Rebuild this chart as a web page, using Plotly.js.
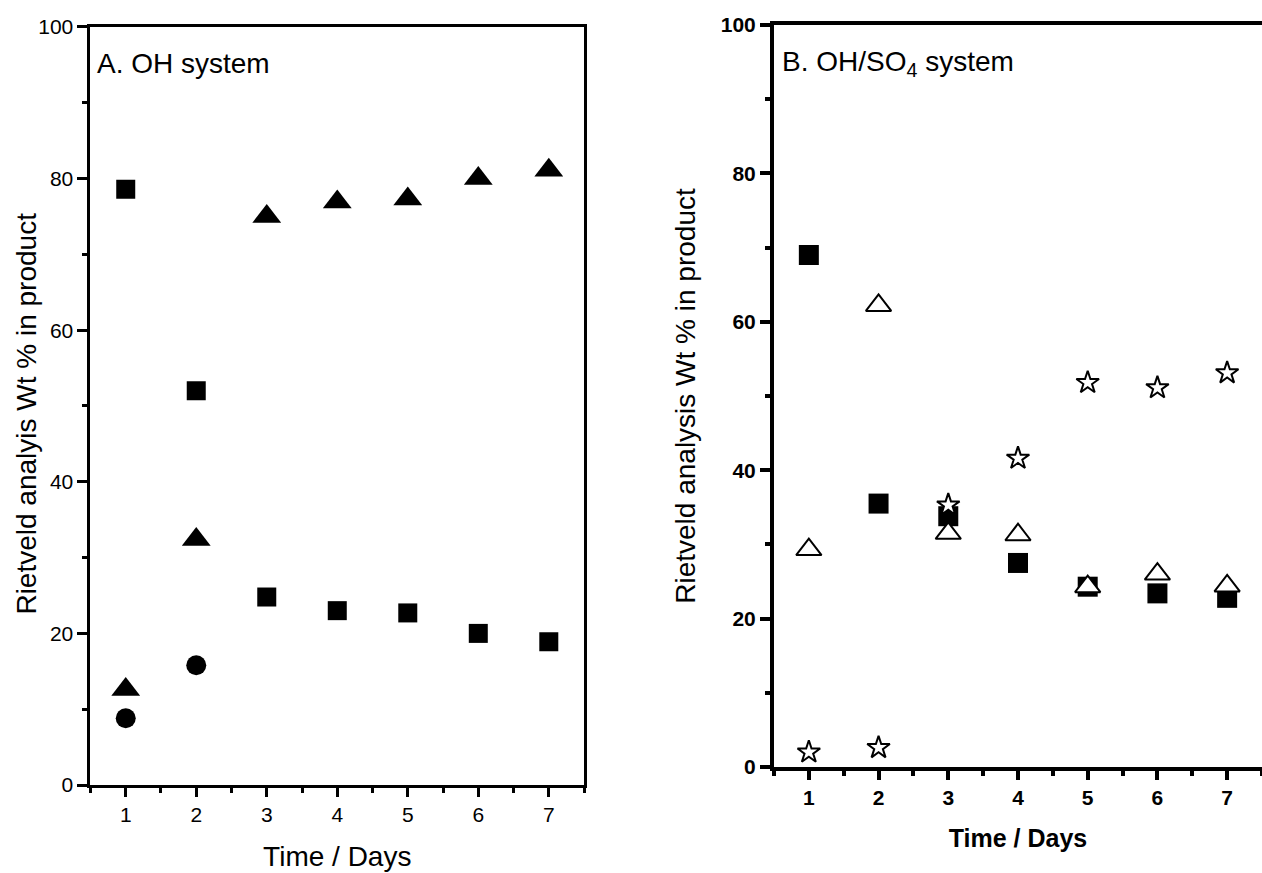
<!DOCTYPE html>
<html>
<head>
<meta charset="utf-8">
<script src="https://cdn.plot.ly/plotly-3.0.1.min.js"></script>
<style>html,body{margin:0;padding:0;background:#fff;}#chart{width:1262px;height:873px;}</style>
</head>
<body>
<div id="chart"></div>
<script>
// ---- Data ----
var days = [1, 2, 3, 4, 5, 6, 7];
var dayTicks = ['1', '2', '3', '4', '5', '6', '7'];

// Panel A: OH system
var aSquares = [78.6, 52.0, 24.8, 23.0, 22.7, 20.0, 18.9];
var aTriangles = [12.6, 32.4, 75.0, 76.9, 77.3, 80.0, 81.1];
var aCircleDays = [1, 2];
var aCircles = [8.8, 15.8];

// Panel B: OH/SO4 system
var bSquares = [69.0, 35.5, 33.8, 27.5, 24.3, 23.4, 22.8];
var bTriangles = [29.3, 62.2, 31.5, 31.3, 24.3, 26.0, 24.4];
var bStars = [2.0, 2.6, 35.3, 41.6, 51.8, 51.1, 53.1];

var titleA = 'Rietveld analyis Wt % in product';
var titleB = 'Rietveld analysis Wt % in product';

var FONT = 'Liberation Sans, Arial, sans-serif';

var traces = [
  {x: days, y: aSquares, xaxis: 'x', yaxis: 'y', mode: 'markers', type: 'scatter',
   marker: {symbol: 'square', size: 19, color: '#000', line: {width: 0}}},
  {x: days, y: aTriangles, xaxis: 'x', yaxis: 'y', mode: 'markers', type: 'scatter',
   marker: {symbol: 'triangle-up', size: 25, color: '#000', line: {width: 0}}},
  {x: aCircleDays, y: aCircles, xaxis: 'x', yaxis: 'y', mode: 'markers', type: 'scatter',
   marker: {symbol: 'circle', size: 20, color: '#000', line: {width: 0}}},
  {x: days, y: bSquares, xaxis: 'x2', yaxis: 'y2', mode: 'markers', type: 'scatter',
   marker: {symbol: 'square', size: 20, color: '#000', line: {width: 0}}},
  {x: days, y: bTriangles, xaxis: 'x2', yaxis: 'y2', mode: 'markers', type: 'scatter',
   marker: {symbol: 'triangle-up', size: 22, color: '#fff', line: {width: 2, color: '#000'}}},
  {x: days, y: bStars, xaxis: 'x2', yaxis: 'y2', mode: 'markers', type: 'scatter',
   marker: {symbol: 'star', size: 17, color: '#fff', line: {width: 2, color: '#000'}}}
];

function xAxis(domain, anchor, bold, lw) {
  return {
    domain: domain, anchor: anchor, range: [0.5, 7.5], fixedrange: true,
    tickmode: 'array', tickvals: days, ticktext: dayTicks,
    showgrid: false, zeroline: false, showline: true, linecolor: '#000', linewidth: lw,
    mirror: true, ticks: 'outside', ticklen: 9, tickwidth: lw, tickcolor: '#000',
    minor: {tickmode: 'linear', tick0: 0.5, dtick: 1, ticks: 'outside', ticklen: 5, tickwidth: lw, tickcolor: '#000', showgrid: false},
    tickfont: {family: FONT, size: 21, color: '#000', weight: bold ? 'bold' : 'normal'},
    title: {text: 'Time / Days', standoff: 22,
            font: {family: FONT, size: bold ? 25 : 28, color: '#000', weight: bold ? 'bold' : 'normal'}},
    automargin: false
  };
}
function yAxis(domain, anchor, bold, lw, mirror) {
  return {
    domain: domain, anchor: anchor, range: [0, 100], fixedrange: true,
    tickmode: 'linear', tick0: 0, dtick: 20,
    showgrid: false, zeroline: false, showline: true, linecolor: '#000', linewidth: lw,
    mirror: mirror, ticks: 'outside', ticklen: 10, tickwidth: lw, tickcolor: '#000',
    minor: {tickmode: 'linear', tick0: 10, dtick: 20, ticks: 'outside', ticklen: 5, tickwidth: lw, tickcolor: '#000', showgrid: false},
    tickfont: {family: FONT, size: 21, color: '#000', weight: bold ? 'bold' : 'normal'},
    automargin: false
  };
}

var yA = yAxis([0.1008, 0.9691], 'x', false, 3, true);
var yB = yAxis([0.1214, 0.9714], 'x2', true, 4, false);
yB.title = {text: titleB, standoff: 18, font: {family: FONT, size: 28, color: '#000'}};

var layout = {
  width: 1262, height: 873,
  margin: {l: 0, r: 0, t: 0, b: 0},
  paper_bgcolor: '#fff', plot_bgcolor: '#fff',
  showlegend: false,
  xaxis: xAxis([0.0717, 0.4628], 'y', false, 3),
  yaxis: yA,
  xaxis2: xAxis([0.6133, 1.0], 'y2', true, 4),
  yaxis2: yB,
  annotations: [
    {xref: 'paper', yref: 'y domain', x: 27 / 1262, y: 0.49, xanchor: 'center', yanchor: 'middle',
     textangle: -90, showarrow: false, text: titleA, font: {family: FONT, size: 28, color: '#000'}},
    {xref: 'x domain', yref: 'y domain', x: 0.01, y: 0.975, xanchor: 'left', yanchor: 'top',
     showarrow: false, text: 'A. OH system', font: {family: FONT, size: 28, color: '#000'}},
    {xref: 'x2 domain', yref: 'y2 domain', x: 0.012, y: 0.975, xanchor: 'left', yanchor: 'top',
     showarrow: false, text: 'B. OH/SO<sub>4</sub> system', font: {family: FONT, size: 28, color: '#000'}}
  ]
};

Plotly.newPlot('chart', traces, layout, {displayModeBar: false, staticPlot: true});
</script>
</body>
</html>
